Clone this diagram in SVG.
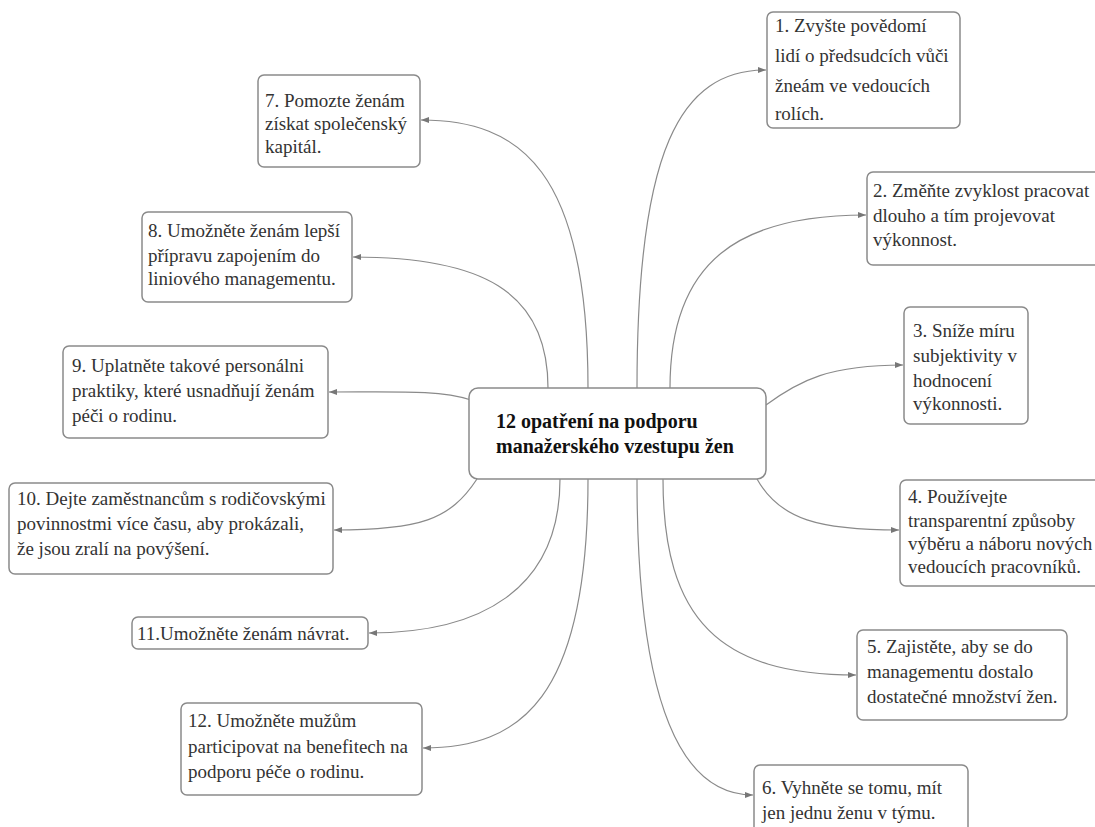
<svg xmlns="http://www.w3.org/2000/svg" width="1095" height="827" viewBox="0 0 1095 827">
<defs>
<style>
.box{fill:#fff;stroke:#8a8a8a;stroke-width:1.5}
.t{font-family:'Liberation Serif','DejaVu Serif',serif;font-size:19px;fill:#333}
.c{font-family:'Liberation Serif','DejaVu Serif',serif;font-size:20px;font-weight:bold;fill:#111}
.ln{fill:none;stroke:#8a8a8a;stroke-width:1.2;marker-end:url(#ah)}
</style>
<marker id="ah" markerWidth="8" markerHeight="6" refX="8" refY="3" orient="auto" markerUnits="userSpaceOnUse">
<path d="M0,0 L8,3 L0,6 z" fill="#777"/>
</marker>
</defs>
<rect width="1095" height="827" fill="#fff"/>
<g id="connectors">
<path class="ln" d="M637,388 C637,150 680,70 766,70"/>
<path class="ln" d="M670,388 C670,260 740,215 866,215"/>
<path class="ln" d="M766,405 C800,380 830,365 903,365"/>
<path class="ln" d="M757,479 C780,520 820,530 899,530"/>
<path class="ln" d="M663,479 C663,620 720,675 856,675"/>
<path class="ln" d="M637,479 C637,700 680,795 753,795"/>
<path class="ln" d="M588,388 C588,170 520,120 421,120"/>
<path class="ln" d="M548,388 C548,290 480,257 353,257"/>
<path class="ln" d="M471,400 C440,390 400,392 329,392"/>
<path class="ln" d="M477,479 C450,520 420,530 334,530"/>
<path class="ln" d="M560,479 C560,590 480,633 369,633"/>
<path class="ln" d="M588,479 C588,700 520,748 423,748"/>
</g>
<g id="center">
<rect class="box" x="469" y="388" width="297" height="91" rx="9"/>
<text class="c" x="496" y="428" font-family="Liberation Serif, serif">12 opatření na podporu</text>
<text class="c" x="496" y="453" font-family="Liberation Serif, serif">manažerského vzestupu žen</text>
</g>
<g id="n1">
<rect class="box" x="767" y="12" width="193" height="116" rx="6"/>
<text class="t" x="775" y="32">1. Zvyšte povědomí</text>
<text class="t" x="775" y="62">lidí o předsudcích vůči</text>
<text class="t" x="775" y="92">žneám ve vedoucích</text>
<text class="t" x="775" y="120">rolích.</text>
</g>
<g id="n2">
<rect class="box" x="867" y="172" width="240" height="93" rx="6"/>
<text class="t" x="873" y="197">2. Změňte zvyklost pracovat</text>
<text class="t" x="873" y="222">dlouho a tím projevovat</text>
<text class="t" x="873" y="246">výkonnost.</text>
</g>
<g id="n3">
<rect class="box" x="904" y="307" width="124" height="117" rx="6"/>
<text class="t" x="913" y="337">3. Sníže míru</text>
<text class="t" x="913" y="362">subjektivity v</text>
<text class="t" x="913" y="387">hodnocení</text>
<text class="t" x="913" y="410">výkonnosti.</text>
</g>
<g id="n4">
<rect class="box" x="900" y="480" width="210" height="106" rx="6"/>
<text class="t" x="908" y="503">4. Používejte</text>
<text class="t" x="908" y="527">transparentní způsoby</text>
<text class="t" x="908" y="550">výběru a náboru nových</text>
<text class="t" x="908" y="573">vedoucích pracovníků.</text>
</g>
<g id="n5">
<rect class="box" x="857" y="630" width="210" height="90" rx="6"/>
<text class="t" x="867" y="653">5. Zajistěte, aby se do</text>
<text class="t" x="867" y="678">managementu dostalo</text>
<text class="t" x="867" y="703">dostatečné množství žen.</text>
</g>
<g id="n6">
<rect class="box" x="754" y="765" width="214" height="75" rx="6"/>
<text class="t" x="762" y="794">6. Vyhněte se tomu, mít</text>
<text class="t" x="762" y="819">jen jednu ženu v týmu.</text>
</g>
<g id="n7">
<rect class="box" x="258" y="75" width="162" height="92" rx="6"/>
<text class="t" x="265" y="107">7. Pomozte ženám</text>
<text class="t" x="265" y="130">získat společenský</text>
<text class="t" x="265" y="153">kapitál.</text>
</g>
<g id="n8">
<rect class="box" x="142" y="212" width="210" height="90" rx="6"/>
<text class="t" x="148" y="237">8. Umožněte ženám lepší</text>
<text class="t" x="148" y="262">přípravu zapojením do</text>
<text class="t" x="148" y="285">liniového managementu.</text>
</g>
<g id="n9">
<rect class="box" x="63" y="346" width="265" height="92" rx="6"/>
<text class="t" x="72" y="372">9. Uplatněte takové personálni</text>
<text class="t" x="72" y="397">praktiky, které usnadňují ženám</text>
<text class="t" x="72" y="422">péči o rodinu.</text>
</g>
<g id="n10">
<rect class="box" x="9" y="483" width="324" height="91" rx="6"/>
<text class="t" x="17" y="505">10. Dejte zaměstnancům s rodičovskými</text>
<text class="t" x="17" y="530">povinnostmi více času, aby prokázali,</text>
<text class="t" x="17" y="555">že jsou zralí na povýšení.</text>
</g>
<g id="n11">
<rect class="box" x="132" y="617" width="236" height="32" rx="6"/>
<text class="t" x="137" y="640">11.Umožněte ženám návrat.</text>
</g>
<g id="n12">
<rect class="box" x="181" y="703" width="241" height="92" rx="6"/>
<text class="t" x="188" y="727">12. Umožněte mužům</text>
<text class="t" x="188" y="753">participovat na benefitech na</text>
<text class="t" x="188" y="778">podporu péče o rodinu.</text>
</g>
</svg>
